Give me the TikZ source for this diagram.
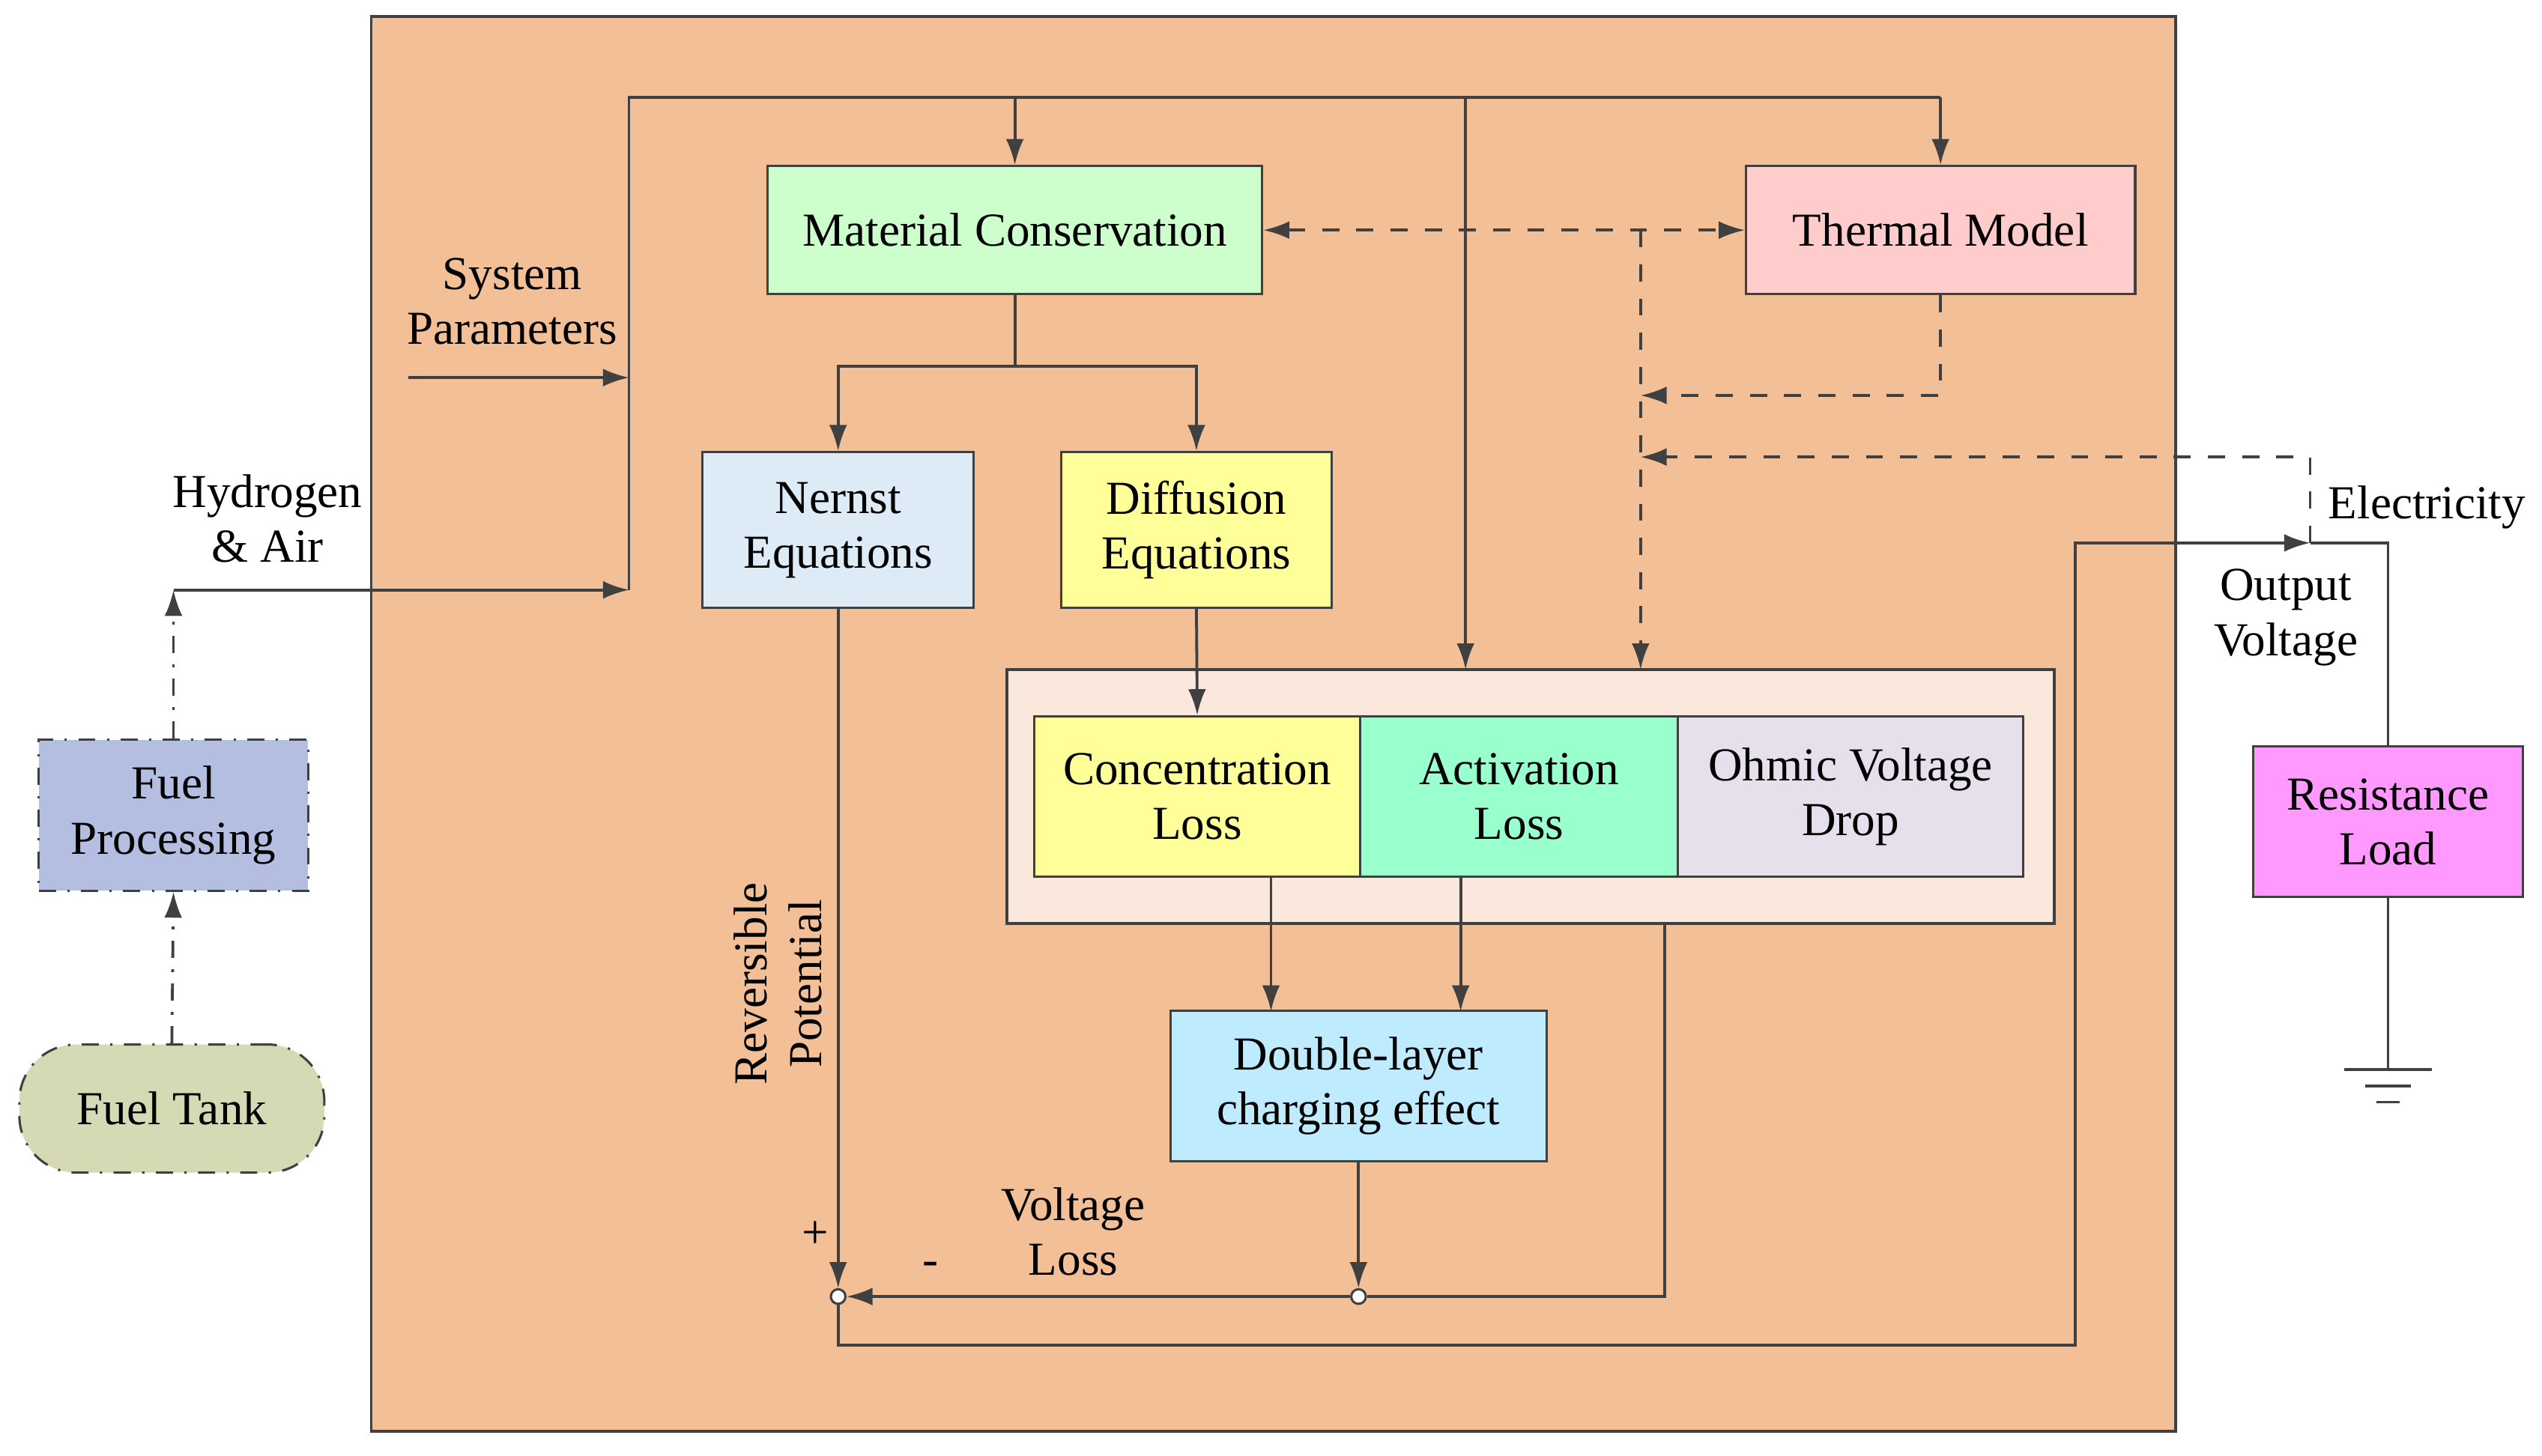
\documentclass[tikz,border=0pt]{standalone}
\usepackage{fontspec}
\setmainfont{Liberation Serif}
\usetikzlibrary{arrows.meta}
\definecolor{bgor}{HTML}{F2BF97}
\definecolor{inbox}{HTML}{FBE8DC}
\definecolor{lnc}{HTML}{404040}
\tikzset{
  blk/.style={draw=lnc, inner sep=0pt, align=center, font=\fontsize{8.3}{9.6}\selectfont},
  arr/.style={-{Latex[length=1.6mm,width=1.1mm]}, draw=lnc, line width=0.5pt},
  ln/.style={draw=lnc, line width=0.5pt},
  lbl/.style={align=center, font=\fontsize{8.3}{9.6}\selectfont},
  dot/.style={circle, draw=lnc, fill=white, inner sep=0pt, minimum size=0.9mm}
}
\begin{document}
\begin{tikzpicture}[x=0.01cm, y=-0.01cm]
  \useasboundingbox (0,0) rectangle (1568,898);
  % background boxes
  \draw [ln, fill=bgor] (229,10) rectangle (1342,883);
  \draw [ln, fill=inbox] (621,413) rectangle (1267,570);
  % blocks
  \node [blk, fill={rgb,255:red,204;green,255;blue,204}, minimum width=3.05cm, minimum height=0.79cm] (mc) at (626,142) {Material Conservation};
  \node [blk, fill={rgb,255:red,255;green,204;blue,204}, minimum width=2.4cm, minimum height=0.79cm] (tm) at (1197,142) {Thermal Model};
  \node [blk, fill={rgb,255:red,221;green,235;blue,247}, minimum width=1.67cm, minimum height=0.96cm] (ne) at (517,327) {Nernst\\Equations};
  \node [blk, fill={rgb,255:red,255;green,255;blue,153}, minimum width=1.67cm, minimum height=0.96cm] (de) at (738,327) {Diffusion\\Equations};
  \node [blk, fill={rgb,255:red,255;green,255;blue,153}, minimum width=2.01cm, minimum height=0.99cm] (cl) at (738.5,491.5) {Concentration\\Loss};
  \node [blk, fill={rgb,255:red,153;green,255;blue,204}, minimum width=1.96cm, minimum height=0.99cm] (al) at (937,491.5) {Activation\\Loss};
  \node [blk, fill={rgb,255:red,230;green,224;blue,236}, minimum width=2.13cm, minimum height=0.99cm] (od) at (1141.5,491.5) {Ohmic Voltage\\Drop};
  \node [blk, fill={rgb,255:red,191;green,235;blue,255}, minimum width=2.32cm, minimum height=0.93cm] (dl) at (838,670) {Double-layer\\charging effect};
  \node [blk, dash dot, fill={rgb,255:red,180;green,190;blue,224}, minimum width=1.66cm, minimum height=0.93cm] (fp) at (107,503) {Fuel\\Processing};
  \node [blk, dash dot, rounded corners=0.35cm, fill={rgb,255:red,213;green,218;blue,180}, minimum width=1.88cm, minimum height=0.79cm] (ft) at (106,684) {Fuel Tank};
  \node [blk, fill={rgb,255:red,255;green,153;blue,255}, minimum width=1.66cm, minimum height=0.93cm] (rl) at (1473,507) {Resistance\\Load};
  % junctions and corners
  \node [dot] (s1) at (517,800) {};
  \node [dot] (s2) at (838,800) {};
  \coordinate (top) at (388,60);
  \coordinate (sp) at (252,233);
  \coordinate (spe) at (388,233);
  \coordinate (hy) at (107,364);
  \coordinate (hye) at (388,364);
  \coordinate (ov) at (1425,335);
  \coordinate (gnd) at (1473,660);
  % system parameter bus
  \draw [ln] (hye) -- (top) -- (1197,60);
  \draw [arr] (626,60) -- (mc.north);
  \draw [arr] (1197,60) -- (tm.north);
  \draw [arr] (904,60) -- (904,413);
  \draw [arr] (sp) -- (spe);
  \draw [arr, dash dot] (fp.north) -- (hy);
  \draw [arr] (hy) -- (hye);
  \draw [arr, dash dot] (ft.north) -- (fp.south);
  % material conservation outputs
  \draw [ln] (mc.south) -- (626,226);
  \draw [arr] (626,226) -| (ne.north);
  \draw [arr] (626,226) -| (de.north);
  % thermal links
  \draw [arr, dashed, {Latex[length=1.6mm,width=1.1mm]}-{Latex[length=1.6mm,width=1.1mm]}] (mc.east) -- (tm.west);
  \draw [arr, dashed] (1012,142) -- (1012,413);
  \draw [arr, dashed] (tm.south) |- (1012,244);
  \draw [arr, dashed] (ov) |- (1012,282);
  % losses
  \draw [arr] (de.south) -- (cl.north);
  \draw [arr] (784,541) -- (784,624);
  \draw [arr] (901,541) -- (901,624);
  \draw [arr] (dl.south) -- (s2);
  \draw [arr] (ne.south) -- (s1);
  \draw [ln] (1027,570) |- (s2);
  \draw [arr] (s2) -- (s1);
  % output voltage
  \draw [arr] (s1) -- (517,830) -- (1280,830) -- (1280,335) -- (ov);
  \draw [ln] (ov) -| (rl.north);
  \draw [ln] (rl.south) -- (gnd);
  \draw [ln] (1446,660) -- (1500,660);
  \draw [ln] (1459,670) -- (1487,670);
  \draw [ln] (1466,680) -- (1480,680);
  % labels
  \node [lbl] (lsp) at (316,186) {System\\Parameters};
  \node [lbl] (lhy) at (165,320) {Hydrogen\\\& Air};
  \node [lbl, rotate=90] (lrp) at (480,607) {Reversible\\Potential};
  \node [lbl] (lpl) at (503,762) {+};
  \node [lbl] (lmi) at (574,783) {-};
  \node [lbl] (lvl) at (662,760) {Voltage\\Loss};
  \node [lbl] (lov) at (1410,381) {Output\\Voltage};
  \node [lbl] (lel) at (1497,313) {Electricity};
\end{tikzpicture}
\end{document}
